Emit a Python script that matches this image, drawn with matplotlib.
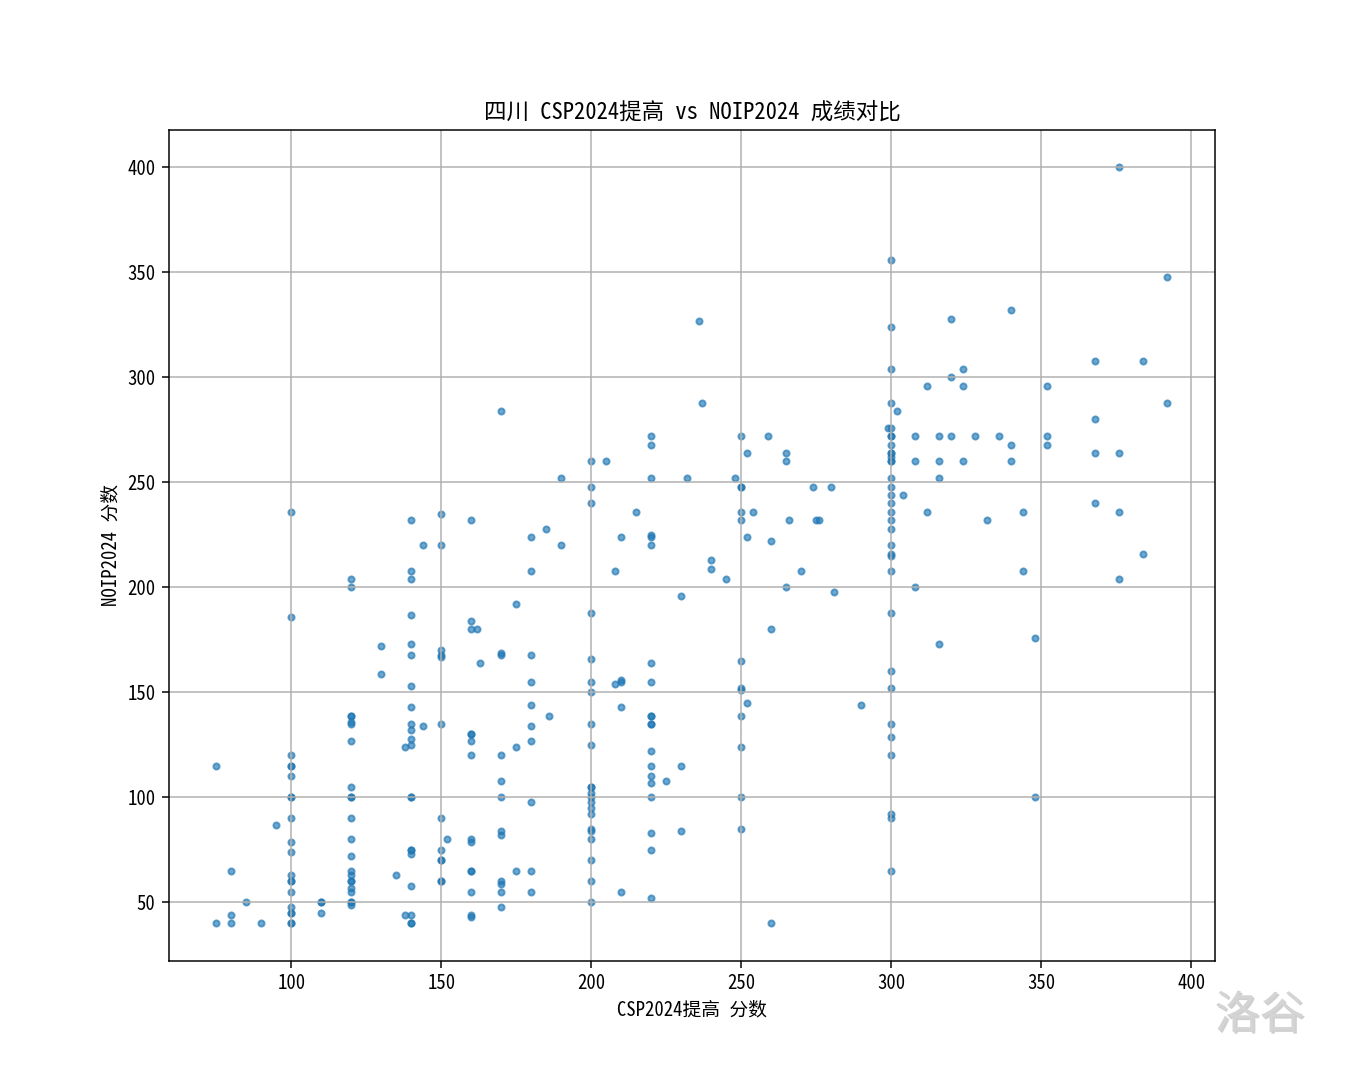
import matplotlib
matplotlib.use('Agg')
from matplotlib import pyplot as plt
import matplotlib.patheffects as pe

plt.rcParams['font.family'] = ['Noto Sans Mono CJK SC', 'Noto Sans CJK SC', 'DejaVu Sans']
plt.rcParams['axes.unicode_minus'] = False

# CSP2024 提高 scores and the matching NOIP2024 scores
csp = ([75, 75, 80, 80, 80, 85, 90, 95]
       + [100] * 20
       + [110] * 3
       + [120] * 22
       + [130, 130, 135, 138, 138]
       + [140] * 21
       + [144, 144]
       + [150] * 12
       + [152]
       + [160] * 14
       + [162, 163]
       + [170] * 12
       + [175] * 3
       + [180] * 10
       + [185, 186, 190, 190]
       + [200] * 22
       + [205, 208, 208]
       + [210] * 5
       + [215]
       + [220] * 20
       + [225, 230, 230, 230, 232, 236, 237, 240, 240, 245, 248]
       + [250] * 12
       + [252, 252, 252, 254, 259, 260, 260, 260, 265, 265, 265, 266, 270,
          274, 275, 276, 280, 281, 290, 299]
       + [300] * 33
       + [302, 304, 308, 308, 308, 312, 312, 316, 316, 316, 316, 320, 320, 320,
          324, 324, 324, 328, 332, 336, 340, 340, 340, 344, 344, 348, 348,
          352, 352, 352, 368, 368, 368, 368, 376, 376, 376, 376, 384, 384,
          392, 392])

noip = ([115, 40, 65, 44, 40, 50, 40, 87]
        # 100
        + [236, 186, 120, 115, 115, 110, 100, 100, 90, 79, 74, 63, 60, 60, 55,
           48, 45, 45, 40, 40]
        # 110
        + [50, 50, 45]
        # 120
        + [204, 200, 139, 139, 136, 135, 127, 105, 100, 100, 90, 80, 72, 65, 63,
           60, 60, 57, 55, 50, 50, 49]
        + [172, 159, 63, 124, 44]
        # 140
        + [232, 208, 204, 187, 173, 168, 153, 143, 135, 132, 128, 125, 100, 100,
           75, 75, 73, 58, 44, 40, 40]
        + [220, 134]
        # 150
        + [235, 220, 170, 168, 167, 135, 90, 75, 70, 70, 60, 60]
        + [80]
        # 160
        + [232, 184, 180, 130, 130, 127, 120, 80, 79, 65, 65, 55, 44, 43]
        + [180, 164]
        # 170
        + [284, 169, 168, 120, 108, 100, 84, 82, 60, 59, 55, 48]
        + [192, 124, 65]
        # 180
        + [224, 208, 168, 155, 144, 134, 127, 98, 65, 55]
        + [228, 139, 252, 220]
        # 200
        + [260, 248, 240, 188, 166, 155, 150, 135, 125, 105, 105, 102, 100, 98,
           95, 92, 85, 84, 80, 70, 60, 50]
        + [260, 208, 154]
        + [224, 156, 155, 143, 55]
        + [236]
        # 220
        + [272, 268, 252, 225, 224, 220, 164, 155, 139, 139, 135, 135, 122, 115,
           110, 107, 100, 83, 75, 52]
        + [108, 196, 115, 84, 252, 327, 288, 213, 209, 204, 252]
        # 250
        + [272, 248, 248, 236, 232, 165, 152, 151, 139, 124, 100, 85]
        + [264, 224, 145, 236, 272, 222, 180, 40, 264, 260, 200, 232, 208,
           248, 232, 232, 248, 198, 144, 276]
        # 300
        + [356, 324, 304, 288, 276, 272, 272, 268, 264, 264, 262, 260, 260, 252,
           248, 244, 240, 236, 232, 228, 220, 216, 215, 208, 188, 160, 152, 135,
           129, 120, 92, 90, 65]
        + [284, 244, 272, 260, 200, 296, 236, 272, 260, 252, 173, 328, 300, 272,
           304, 296, 260, 272, 232, 272, 332, 268, 260, 236, 208, 176, 100,
           296, 272, 268, 308, 280, 264, 240, 400, 264, 236, 204, 308, 216,
           348, 288])

fig, ax = plt.subplots(figsize=(10, 8), dpi=135)
ax.scatter(csp, noip, s=11, alpha=0.65, color='tab:blue')
ax.set_title('四川 CSP2024提高 vs NOIP2024 成绩对比', fontsize=12)
ax.set_xlabel('CSP2024提高 分数')
ax.set_ylabel('NOIP2024 分数')
ax.grid(True)

# site watermark
fig.text(0.933, 0.06, '洛谷', fontsize=24, color='#d4d4d4', ha='center', va='center',
         family=['Noto Sans CJK SC', 'DejaVu Sans'], weight='light',
         path_effects=[pe.withSimplePatchShadow(offset=(1, -1), shadow_rgbFace='#a0a0a0', alpha=0.5)])

fig.savefig('out.png', dpi=135)
